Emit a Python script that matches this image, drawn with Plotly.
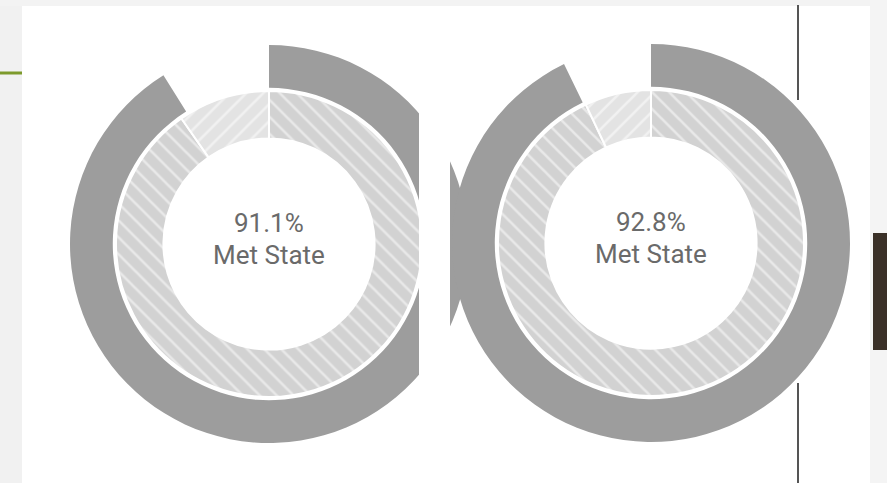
import plotly.graph_objects as go

W, H = 887, 483

# values (percent)
labels_outer = ['Met', 'Not met']
left_outer = [91.1, 8.9]
right_outer = [92.8, 7.2]

labels_inner = ['State', 'Rest']
left_inner = [90.3, 9.7]
right_inner = [93.0, 7.0]

center_pct = ['91.1%', '92.8%']
center_label = 'Met State'


def px_x(x):
    return x / W


def px_y(y):
    return 1 - y / H


def square(cx, cy, r):
    return dict(x=[px_x(cx - r), px_x(cx + r)], y=[px_y(cy + r), px_y(cy - r)])


fig = go.Figure()

charts = [
    (269, 244, left_outer, left_inner),
    (651, 243, right_outer, right_inner),
]

ring_colors = ['#d2d2d2', '#e3e3e3']

for cx, cy, outer, inner in charts:
    # outer dark ring
    fig.add_trace(go.Pie(
        labels=labels_outer, values=outer, sort=False, direction='clockwise', rotation=0,
        hole=0.785, domain=square(cx, cy, 199),
        marker=dict(colors=['#9d9d9d', 'rgba(0,0,0,0)'], line=dict(width=0)),
        textinfo='none', hoverinfo='label+value', showlegend=False
    ))
    # inner hatched ring
    fig.add_trace(go.Pie(
        labels=labels_inner, values=inner, sort=False, direction='clockwise', rotation=0,
        hole=0.69, domain=square(cx, cy, 153),
        marker=dict(colors=ring_colors, line=dict(color='white', width=2),
                    pattern=dict(shape=['\\', '/'], bgcolor=ring_colors, fgcolor='white',
                                 fillmode='overlay', size=12, solidity=0.22)),
        textinfo='none', hoverinfo='label+value', showlegend=False
    ))

for (cx, cy, _, _), pct in zip(charts, center_pct):
    fig.add_annotation(x=px_x(cx), y=px_y(cy - 21), xref='paper', yref='paper', text=pct,
                       xanchor='center', yanchor='middle', showarrow=False,
                       font=dict(family='Roboto', size=26, color='#6a6a6a'))
    fig.add_annotation(x=px_x(cx), y=px_y(cy + 11), xref='paper', yref='paper', text=center_label,
                       xanchor='center', yanchor='middle', showarrow=False,
                       font=dict(family='Roboto', size=26, color='#6a6a6a'))

shapes = [
    # left strip of the slide background
    dict(type='rect', x0=0, x1=px_x(22), y0=0, y1=1, fillcolor='#f1f1f1', line=dict(width=0), layer='below'),
    dict(type='rect', x0=0, x1=1, y0=px_y(6), y1=1, fillcolor='#f3f3f3', line=dict(width=0), layer='below'),
    dict(type='rect', x0=px_x(870), x1=1, y0=0, y1=1, fillcolor='#f4f4f4', line=dict(width=0), layer='below'),
    # crop edge of the left chart
    dict(type='rect', x0=px_x(419), x1=px_x(450), y0=0, y1=px_y(6), fillcolor='white', line=dict(width=0), layer='above'),
    # green accent line
    dict(type='line', x0=0, x1=px_x(22), y0=px_y(73), y1=px_y(73), line=dict(color='#7d9a2c', width=3), layer='above'),
    # vertical divider
    dict(type='line', x0=px_x(798), x1=px_x(798), y0=px_y(5), y1=px_y(100), line=dict(color='#555555', width=2), layer='above'),
    dict(type='line', x0=px_x(798), x1=px_x(798), y0=px_y(383), y1=0, line=dict(color='#555555', width=2), layer='above'),
    # dark block on the right
    dict(type='rect', x0=px_x(873), x1=1, y0=px_y(350), y1=px_y(233), fillcolor='#3b3128', line=dict(width=0), layer='above'),
]

fig.update_layout(
    width=W, height=H,
    margin=dict(l=0, r=0, t=0, b=0),
    paper_bgcolor='white', plot_bgcolor='white',
    shapes=shapes,
    showlegend=False
)

fig.write_html("out.html", config={'displayModeBar': False},
               post_script="document.body.style.margin='0';")
